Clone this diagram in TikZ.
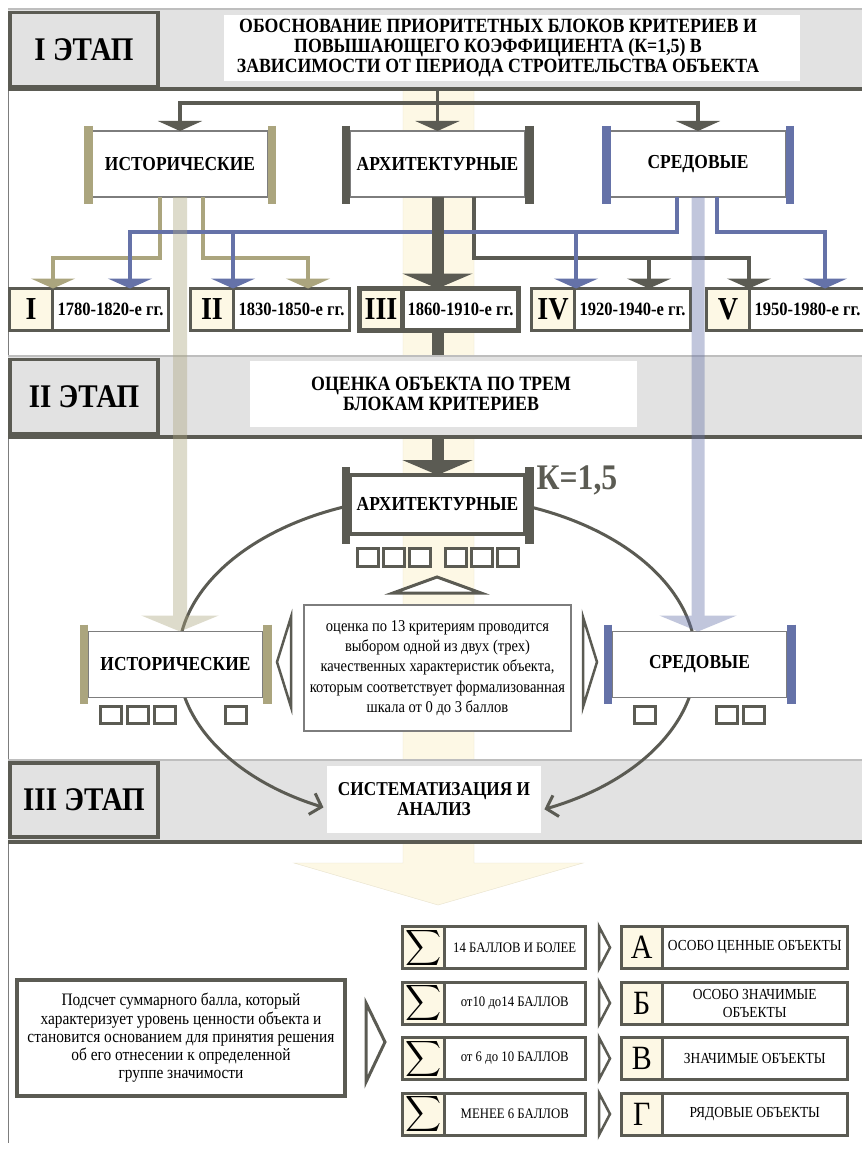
\documentclass[tikz,border=0pt]{standalone}
\usepackage{fontspec}
\setmainfont{Liberation Serif}[FakeStretch=0.88]
\usetikzlibrary{arrows.meta,positioning,calc}

\definecolor{histc}{RGB}{171,165,126}
\definecolor{envc}{RGB}{101,114,168}
\definecolor{archc}{RGB}{91,91,83}
\definecolor{bandc}{RGB}{226,226,226}
\definecolor{bandline}{RGB}{190,190,190}
\definecolor{creamc}{RGB}{253,248,229}
\definecolor{creamline}{RGB}{232,226,204}
\definecolor{thinc}{RGB}{125,125,125}

\pgfdeclarelayer{bg}
\pgfsetlayers{bg,main}

% coloured bars on both sides of a block
\newcommand{\sidebars}[4]{%
  \draw[#2, line width=8.5] ($(#1.north west)+(-4.25,-#3)$) -- ($(#1.south west)+(-4.25,#4)$);
  \draw[#2, line width=8.5] ($(#1.north east)+(4.25,-#3)$) -- ($(#1.south east)+(4.25,#4)$);
}

\tikzset{
  stdtip/.tip={Triangle[width=44pt,length=10pt]},
  bigtip/.tip={Triangle[width=70pt,length=15pt]},
  band/.style={fill=bandc, minimum width=854, minimum height=80, inner sep=0, outer sep=0},
  stagebox/.style={draw=archc, line width=3.5, fill=bandc, minimum width=148, minimum height=74,
    inner sep=0, outer sep=0, font=\bfseries\fontsize{33}{35}\selectfont},
  whitebox/.style={fill=white, inner sep=0, outer sep=0},
  headtext/.style={inner sep=0, align=center, font=\bfseries\fontsize{20.2}{20}\selectfont},
  critbox/.style={draw=thinc, line width=1.2, fill=white, minimum width=175, minimum height=66,
    inner sep=0, outer sep=0, font=\bfseries\fontsize{19.8}{20}\selectfont},
  numcell/.style={draw=archc, line width=3, fill=creamc, minimum width=43, minimum height=42,
    inner sep=0, outer sep=0, font=\bfseries\fontsize{32}{32}\selectfont},
  yrcell/.style={numcell, fill=white, minimum width=116, font=\bfseries\fontsize{18.8}{18}\selectfont},
  sq/.style={draw=archc, line width=3, fill=white, minimum width=21, minimum height=17, inner sep=0},
  notebox/.style={draw=archc, line width=4, fill=white, inner sep=0, outer sep=0, align=center,
    font=\fontsize{17.5}{18.3}\selectfont},
  chev/.style={draw=archc, line width=2.5, fill=white, line join=miter},
  hline/.style={histc, line width=3.5, -stdtip},
  eline/.style={envc, line width=3.5, -stdtip},
  aline/.style={archc, line width=3.5, -stdtip},
  ring/.style={archc, line width=3, -{Straight Barb[length=10pt,width=22pt]}},
  sumcell/.style={numcell, minimum width=41.5, font=\normalfont},
  ptscell/.style={numcell, fill=white, minimum width=141.5, font=\fontsize{14.5}{16}\selectfont},
  grpcell/.style={numcell, minimum width=40.5, font=\fontsize{34}{34}\selectfont},
  desccell/.style={numcell, fill=white, minimum width=185.5, align=center, font=\fontsize{15.3}{18}\selectfont}
}

\begin{document}
\begin{tikzpicture}[x=1pt, y=-1pt]
\useasboundingbox (0,0) rectangle (862,1153);

% wide arrow through all stages
\begin{pgfonlayer}{bg}
  \fill[white] (0,0) rectangle (862,1153);
  \draw[creamline, fill=creamc] (403,89) -- (403,863) -- (294,863) -- (438,905) -- (583,863) -- (474,863) -- (474,89) -- cycle;
  \draw[thinc, line width=1] (8,89) -- (8,1143);
\end{pgfonlayer}

% stage bands
\node[band] (band1) at (435,49) {};
\node[band, minimum height=81] (band2) at (435,396.5) {};
\node[band, minimum height=82] (band3) at (435,801) {};
\foreach \b in {band1,band2,band3} {
  \draw[bandline, line width=1.5] (\b.north west) -- (\b.north east);
  \draw[archc, line width=4] (\b.south west) -- (\b.south east);
}
\node[stagebox] (st1) at (84,49.5) {I ЭТАП};
\node[stagebox] (st2) at (84,396.5) {II ЭТАП};
\node[stagebox] (st3) at (84,800) {III ЭТАП};

\node[whitebox, minimum width=576, minimum height=66] (title) at (512,48) {};
\node[headtext] (titletext) at (498,48) {ОБОСНОВАНИЕ ПРИОРИТЕТНЫХ БЛОКОВ КРИТЕРИЕВ И\\ПОВЫШАЮЩЕГО КОЭФФИЦИЕНТА (К=1,5) В\\ЗАВИСИМОСТИ ОТ ПЕРИОДА СТРОИТЕЛЬСТВА ОБЪЕКТА};
\node[whitebox, minimum width=387, minimum height=66] (eval) at (443.5,394) {};
\node[headtext, font=\bfseries\fontsize{20.3}{20}\selectfont] (evaltext) at (441,394) {ОЦЕНКА ОБЪЕКТА ПО ТРЕМ\\БЛОКАМ КРИТЕРИЕВ};
\node[whitebox, minimum width=214, minimum height=67] (sys) at (434,799.5) {};
\node[headtext, font=\bfseries\fontsize{19.6}{20}\selectfont] (systext) at (434,799.5) {СИСТЕМАТИЗАЦИЯ И\\АНАЛИЗ};

% stage I blocks
\node[critbox] (hist) at (180,164) {ИСТОРИЧЕСКИЕ};
\node[critbox] (arch) at (437.5,164) {АРХИТЕКТУРНЫЕ};
\node[critbox] (env) at (698,164) {СРЕДОВЫЕ};
\sidebars{hist}{histc}{5}{7}
\sidebars{arch}{archc}{5}{7}
\sidebars{env}{envc}{5}{7}

% periods
\foreach \x/\num/\yrs/\lw [count=\i] in {8/I/1780-1820/3, 189/II/1830-1850/3, 358/III/1860-1910/5, 530/IV/1920-1940/3, 705/V/1950-1980/3} {
  \node[numcell, line width=\lw] (n\i) at (\x+23,309.5) {\num};
  \node[yrcell, line width=\lw, right=0pt of n\i] (p\i) {\yrs-е гг.};
}

% fork from stage I
\coordinate (fork) at (437.5,103);
\draw[archc, line width=3.5] (band1.south -| fork) -- (fork);
\draw[aline] (fork) -| (hist.north);
\draw[aline] (fork) -- (arch.north);
\draw[aline] (fork) -| (env.north);

% blocks to periods
\draw[hline] (160,0 |- hist.south) |- (53,258) -- (53,0 |- p1.north);
\draw[hline] (203,0 |- hist.south) |- (308,258) -- (308,0 |- p2.north);
\draw[aline] (474,0 |- arch.south) |- (749,258) -- (749,0 |- p5.north);
\draw[aline] (649,258) -- (649,0 |- p4.north);
\draw[eline] (677,0 |- env.south) |- (130,232) -- (130,0 |- p1.north);
\draw[eline] (233,232) -- (233,0 |- p2.north);
\draw[eline] (576,232) -- (576,0 |- p4.north);
\draw[eline] (717,0 |- env.south) |- (825,232) -- (825,0 |- p5.north);
\draw[archc, line width=12, -bigtip] (arch.south) -- (arch.south |- p3.north);

% circle of the three blocks
\coordinate (ringtop) at (437,496);
\draw[ring] (ringtop) arc[start angle=-90, end angle=-244, x radius=259, y radius=164];
\draw[ring] (ringtop) arc[start angle=-90, end angle=65.5, x radius=259, y radius=164];

% stage II blocks
\node[critbox, draw=archc, line width=4, minimum height=59] (arch2) at (437.5,504.5) {АРХИТЕКТУРНЫЕ};
\node[critbox] (hist2) at (175.5,664.5) {ИСТОРИЧЕСКИЕ};
\node[critbox] (env2) at (699.5,664.5) {СРЕДОВЫЕ};
\sidebars{arch2}{archc}{8}{10}
\sidebars{hist2}{histc}{7}{6}
\sidebars{env2}{envc}{7}{6}
\node[font=\bfseries\fontsize{36}{36}\selectfont, text=archc, inner sep=0] (kval) at (577,480) {К=1,5};

\begin{pgfonlayer}{bg}
  \draw[archc, line width=12, -bigtip] (arch.south |- p3.south) -- (arch.south |- arch2.north);
\end{pgfonlayer}

% criteria squares
\foreach \x [count=\i] in {367.5,393.5,419.5,455.5,481.5,507.5}
  \node[sq, minimum height=18] (aq\i) at (\x,557.5) {};
\foreach \x [count=\i] in {111,138,165,236}
  \node[sq] (hq\i) at (\x,715) {};
\foreach \x [count=\i] in {645,727,754}
  \node[sq] (eq\i) at (\x,715) {};

\draw[chev, line width=3] (393,593) -- (437,577) -- (481,593) -- cycle;
\draw[chev] (291,617) -- (277,662) -- (291,707) -- cycle;
\draw[chev] (583,617) -- (597,662) -- (583,707) -- cycle;
\node[notebox, draw=thinc, line width=1.5, minimum width=267, minimum height=126,
  font=\fontsize{16.5}{20.3}\selectfont] (scale) at (437.5,668)
  {оценка по 13 критериям проводится\\выбором одной из двух (трех)\\качественных характеристик объекта,\\которым соответствует формализованная\\шкала от 0 до 3 баллов};

% light arrows from stage I to stage II
\begin{scope}[transparency group, opacity=.4]
  \draw[histc, line width=14, -{Triangle[width=77pt,length=16pt]}] (hist.south) -- (hist.south |- hist2.north);
\end{scope}
\begin{scope}[transparency group, opacity=.4]
  \draw[envc, line width=13, -{Triangle[width=77pt,length=16pt]}] (env.south) -- (env.south |- env2.north);
\end{scope}

% result groups
\node[notebox, minimum width=328, minimum height=116] (count) at (181,1038)
  {Подсчет суммарного балла, который\\характеризует уровень ценности объекта и\\становится основанием для принятия решения\\об его отнесении к определенной\\группе значимости};
\draw[chev, line width=3] (366,1003) -- (385,1042) -- (366,1082) -- cycle;

\foreach \y/\pts/\grp/\desc [count=\i] in {947.5/{14 БАЛЛОВ И БОЛЕЕ}/А/{ОСОБО ЦЕННЫЕ ОБЪЕКТЫ},
    1003/{от10 до14 БАЛЛОВ}/Б/{ОСОБО ЗНАЧИМЫЕ\\ОБЪЕКТЫ},
    1058.5/{от 6 до 10 БАЛЛОВ}/В/{ЗНАЧИМЫЕ ОБЪЕКТЫ},
    1114/{МЕНЕЕ 6 БАЛЛОВ}/Г/{РЯДОВЫЕ ОБЪЕКТЫ}} {
  \node[sumcell] (s\i) at (423.25,\y) {\scalebox{2.5}{$\displaystyle\sum$}};
  \node[ptscell, right=0pt of s\i] (t\i) {\pts};
  \node[grpcell] (g\i) at (641.75,\y) {\grp};
  \node[desccell, right=0pt of g\i] (d\i) {\desc};
  \draw[chev] (599,\y-21) -- (610,\y) -- (599,\y+21) -- cycle;
}

\end{tikzpicture}
\end{document}
